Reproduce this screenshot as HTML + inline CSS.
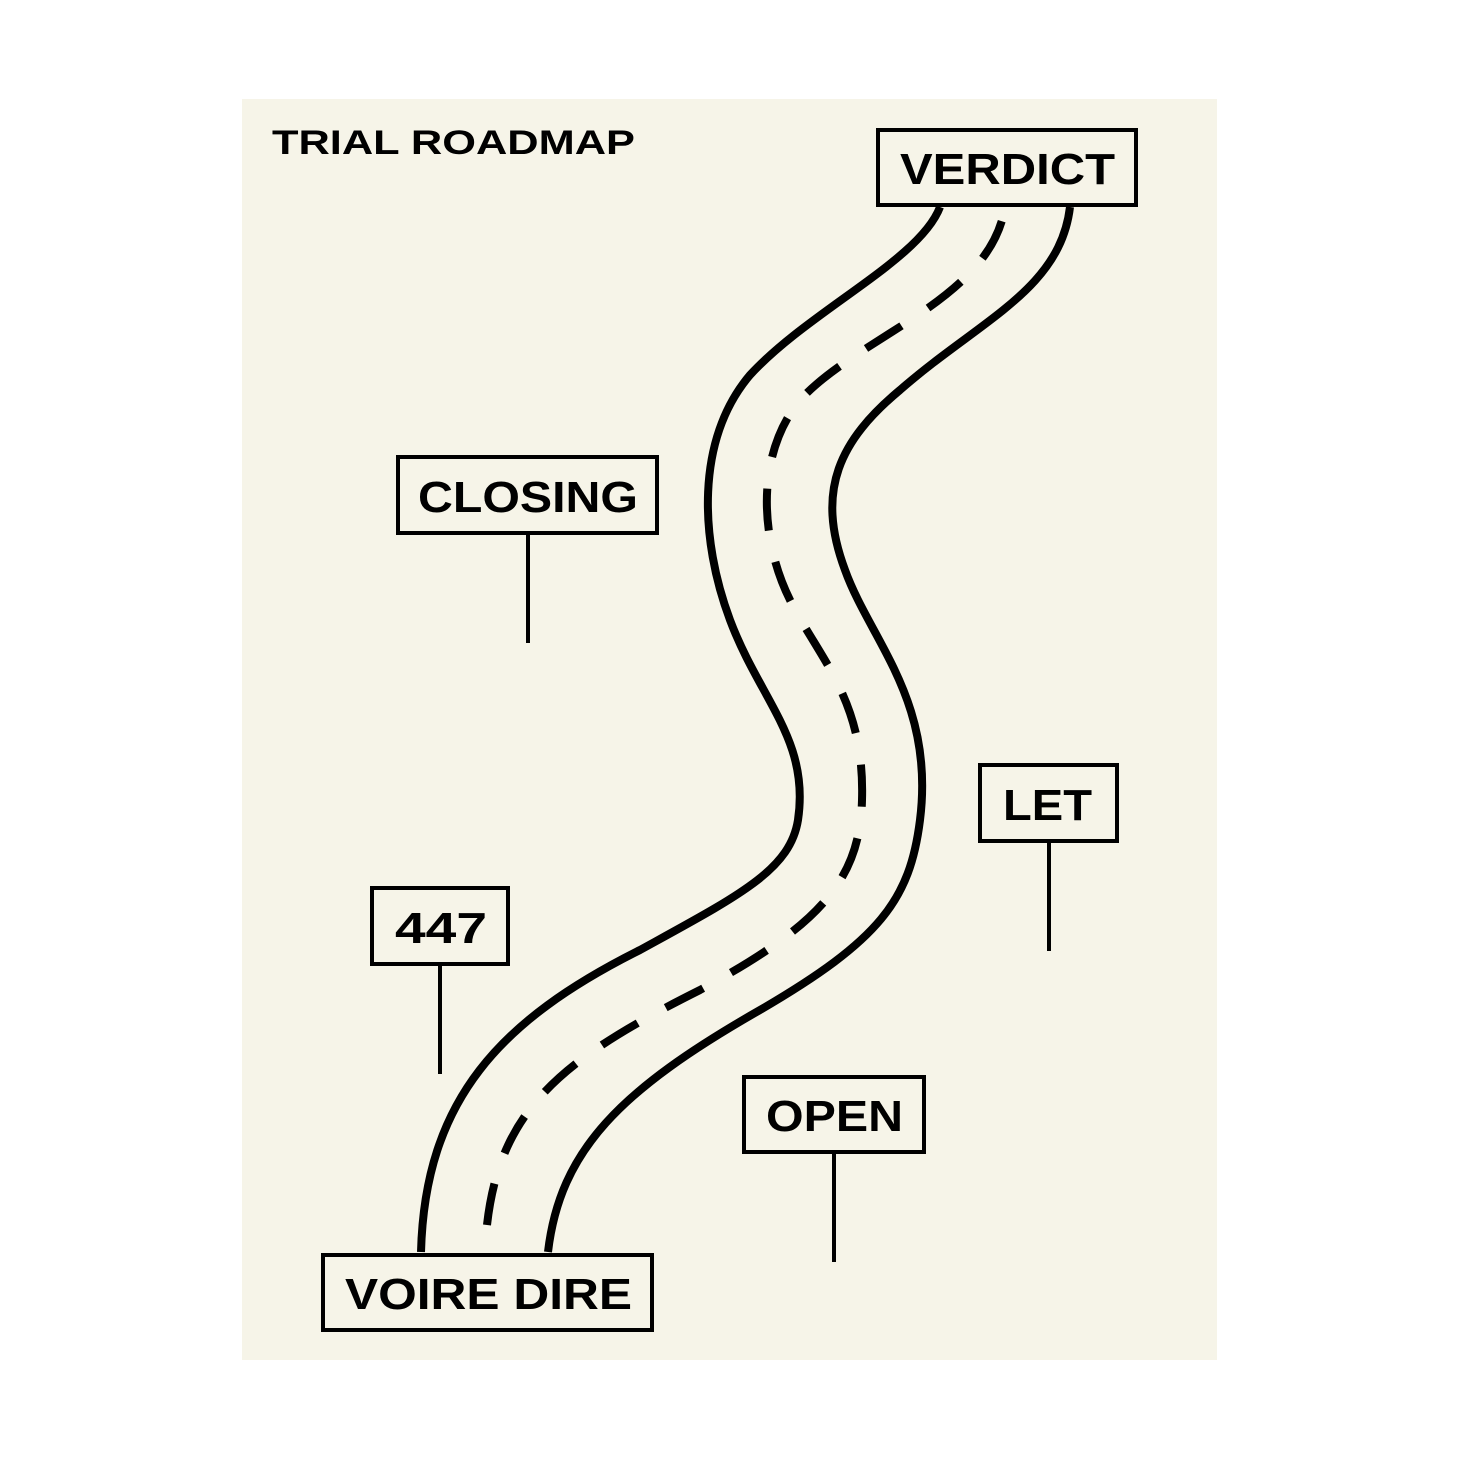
<!DOCTYPE html>
<html><head><meta charset="utf-8"><style>
html,body{margin:0;padding:0;background:#fff;}
svg{display:block;}
text{font-family:"Liberation Sans",sans-serif;font-weight:bold;fill:#000;}
</style></head><body>
<svg width="1459" height="1459" viewBox="0 0 1459 1459" xmlns="http://www.w3.org/2000/svg">
<rect x="242" y="99" width="975" height="1261" fill="#f6f4e8"/>
<text x="272" y="154" font-size="34" textLength="363" lengthAdjust="spacingAndGlyphs">TRIAL ROADMAP</text>
<g fill="none" stroke="#000" stroke-width="8" stroke-linecap="butt">
<path d="M421,1252 C425,1100 500,1020 640,950 C740,895 790,870 798,820 C810,740 760,700 730,620 C700,540 695,440 750,375 C810,310 920,260 940,207"/>
<path d="M548,1252 C560,1150 620,1090 760,1010 C880,940 910,900 920,820 C935,700 870,640 845,570 C815,490 840,440 900,390 C980,320 1060,290 1070,207"/>
<path d="M487,1225 C500,1110 560,1060 700,990 C820,925 860,880 862,800 C865,700 820,660 790,600 C760,540 755,455 800,400 C860,335 990,300 1005,207" stroke-dasharray="42 32"/>
</g>
<g fill="#f6f4e8" stroke="#000" stroke-width="4">
<rect x="878" y="130" width="258" height="75"/>
<rect x="398" y="457" width="259" height="76"/>
<rect x="980" y="765" width="137" height="76"/>
<rect x="372" y="888" width="136" height="76"/>
<rect x="744" y="1077" width="180" height="75"/>
<rect x="323" y="1255" width="329" height="75"/>
</g>
<g stroke="#000" stroke-width="4">
<line x1="528" y1="535" x2="528" y2="643"/>
<line x1="1049" y1="843" x2="1049" y2="951"/>
<line x1="440" y1="966" x2="440" y2="1074"/>
<line x1="834" y1="1154" x2="834" y2="1262"/>
</g>
<g font-size="44" lengthAdjust="spacingAndGlyphs">
<text x="900" y="184" textLength="215" lengthAdjust="spacingAndGlyphs">VERDICT</text>
<text x="418" y="512" textLength="220" lengthAdjust="spacingAndGlyphs">CLOSING</text>
<text x="1003" y="820" textLength="89" lengthAdjust="spacingAndGlyphs">LET</text>
<text x="395" y="943" textLength="92" lengthAdjust="spacingAndGlyphs">447</text>
<text x="766" y="1131" textLength="137" lengthAdjust="spacingAndGlyphs">OPEN</text>
<text x="345" y="1309" textLength="287" lengthAdjust="spacingAndGlyphs">VOIRE DIRE</text>
</g>
</svg>
</body></html>
